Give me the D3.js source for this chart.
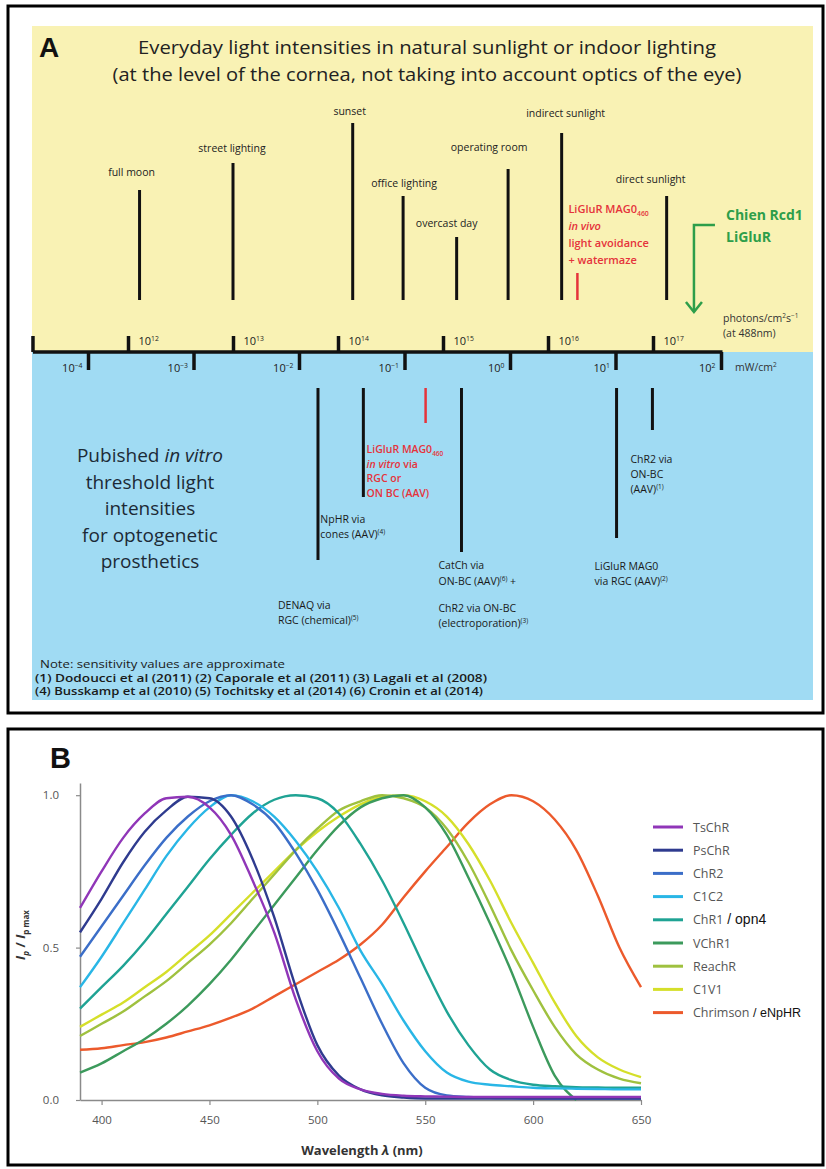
<!DOCTYPE html>
<html><head><meta charset="utf-8">
<script src="https://cdn.jsdelivr.net/npm/d3@7"></script>
<style>body{margin:0;background:#fff}svg{display:block}</style>
</head><body><svg id="c" width="826" height="1169"></svg>
<script>
// ---------------- DATA ----------------
// Panel A: everyday light intensities (log10 photons/cm2/s at 488nm)
const everydayLabels = ["full moon","street lighting","sunset","office lighting","overcast day","operating room","indirect sunlight","direct sunlight"];
const everydayLogPhotons = [12.11, 13.0, 14.14, 14.62, 15.13, 15.62, 16.13, 17.13];
const liGluRInVivoLog = 16.28;
const chienArrowLog = 17.39;
const photonTicks = [12, 13, 14, 15, 16, 17];
const mwTicks = [-4, -3, -2, -1, 0, 1, 2];
// Panel A: published in vitro thresholds (log10 mW/cm2)
const thresholdNames = ["DENAQ", "NpHR", "LiGluR in vitro", "CatCh/ChR2", "LiGluR MAG0 RGC", "ChR2 ON-BC"];
const thresholdLogMw = [-1.82, -1.39, -0.80, -0.46, 1.01, 1.35];
const notesLines = ["Note:  sensitivity values are approximate",
  "(1)  Dodoucci et al (2011)  (2) Caporale et al (2011) (3) Lagali et al (2008)",
  "(4) Busskamp et al (2010)  (5) Tochitsky et al (2014) (6) Cronin et al (2014)"];
// Panel B: normalized photocurrent spectra
const wavelengths = [390,400,410,420,430,440,450,460,470,480,490,500,510,520,530,540,550,560,570,580,590,600,610,620,630,640,650];
const tschr    = [0.63,0.75,0.86,0.94,0.99,0.995,0.96,0.87,0.72,0.55,0.33,0.16,0.07,0.035,0.02,0.014,0.012,0.011,0.01,0.01,0.01,0.01,0.01,0.01,0.01,0.01,0.01];
const pschr    = [0.55,0.66,0.78,0.88,0.95,0.995,0.99,0.93,0.79,0.60,0.37,0.18,0.08,0.035,0.015,0.008,0.005,0.005,0.005,0.005,0.005,0.005,0.005,0.005,0.005,0.005,0.005];
const chr2     = [0.47,0.57,0.67,0.77,0.86,0.93,0.98,1.0,0.97,0.91,0.81,0.69,0.55,0.40,0.25,0.12,0.04,0.015,0.01,0.007,0.006,0.005,0.005,0.005,0.005,0.005,0.005];
const c1c2     = [0.37,0.47,0.58,0.69,0.80,0.89,0.96,1.0,0.98,0.93,0.85,0.75,0.63,0.49,0.38,0.26,0.16,0.09,0.06,0.05,0.045,0.04,0.038,0.037,0.036,0.035,0.035];
const chr1     = [0.30,0.37,0.44,0.52,0.61,0.70,0.79,0.87,0.94,0.985,1.0,0.99,0.94,0.84,0.72,0.58,0.43,0.29,0.18,0.10,0.065,0.05,0.045,0.042,0.041,0.04,0.04];
const vchr1    = [0.09,0.12,0.16,0.20,0.25,0.31,0.38,0.46,0.55,0.64,0.73,0.82,0.90,0.96,0.99,1.0,0.96,0.87,0.73,0.58,0.42,0.24,0.08,0.0,null,null,null];
const reachr   = [0.21,0.25,0.29,0.34,0.39,0.45,0.51,0.58,0.66,0.74,0.82,0.89,0.95,0.98,1.0,0.99,0.96,0.89,0.78,0.64,0.49,0.36,0.24,0.15,0.10,0.07,0.055];
const c1v1     = [0.24,0.28,0.32,0.37,0.42,0.48,0.54,0.61,0.68,0.75,0.82,0.88,0.93,0.97,0.995,1.0,0.98,0.93,0.84,0.72,0.58,0.45,0.32,0.21,0.14,0.10,0.075];
const chrimson = [0.165,0.17,0.18,0.19,0.205,0.225,0.245,0.27,0.30,0.34,0.38,0.42,0.46,0.51,0.575,0.665,0.75,0.83,0.91,0.97,1.0,0.98,0.92,0.82,0.67,0.50,0.37];
const seriesNames = ["TsChR","PsChR","ChR2","C1C2","ChR1","VChR1","ReachR","C1V1","Chrimson"];
const seriesExtra = ["","","","","/ opn4","","","","/ eNpHR"];
const seriesValues = [tschr,pschr,chr2,c1c2,chr1,vchr1,reachr,c1v1,chrimson];
const seriesColors = ["#9036b8","#2f3b8f","#3b6ec8","#29b6e6","#1fa394","#3c9a5c","#9fc13f","#d5df2a","#ec5a2c"];
const xTicksB = [400,450,500,550,600,650];
const yTicksB = [0, 0.5, 1.0];

// ---------------- LAYOUT ----------------
const FONT = '"Open Sans","Noto Sans",sans-serif';
const svg = d3.select("#c");
const everydayStem = [110,137,177,104,63,131,167,104];
const everydayLabelDx = [-8,-1,-3,1,-10,-19,4,-16];
const everydayLabelGap = [14,11,8,9,10,18,16,13];
const thrStemTop = 388;
const thrStem = [172,109,35,164,150,42];

function rich(sel, parts, size) {
  let shift = 0;
  parts.forEach(p => {
    const s = typeof p === "string" ? p : p[0];
    const t = typeof p === "string" ? "" : (p[1] || "");
    const ts = sel.append("tspan").text(s);
    let target = 0;
    if (t.includes("sup")) target = -size * 0.4;
    if (t.includes("sub")) target = size * 0.28;
    ts.attr("dy", target - shift); shift = target;
    if (t.includes("sup") || t.includes("sub")) ts.attr("font-size", size * 0.62);
    if (t.includes("it")) ts.attr("font-style", "italic");
    if (t.includes("bold")) ts.attr("font-weight", "bold");
  });
}
function txt(x, y, parts, o = {}) {
  const size = o.size || 11;
  const t = svg.append("text").attr("x", x).attr("y", y)
    .attr("font-family", o.family || FONT).attr("font-size", size)
    .attr("fill", o.fill || "#1a1a1a").attr("text-anchor", o.anchor || "start");
  if (o.weight) t.attr("font-weight", o.weight);
  if (o.len) t.attr("textLength", o.len).attr("lengthAdjust", "spacingAndGlyphs");
  rich(t, typeof parts === "string" ? [parts] : parts, size);
  return t;
}

// ---------------- PANEL A ----------------
svg.append("rect").attr("x", 8).attr("y", 6).attr("width", 815).attr("height", 707)
  .attr("fill", "none").attr("stroke", "#000").attr("stroke-width", 3);
svg.append("rect").attr("x", 32).attr("y", 26).attr("width", 781).attr("height", 326).attr("fill", "#f9f2b4");
svg.append("rect").attr("x", 32).attr("y", 352).attr("width", 781).attr("height", 348).attr("fill", "#a0dbf3");

txt(39, 57, "A", {size: 28, weight: "bold", family: '"Liberation Sans",Arial,sans-serif', fill: "#111"});
txt(427, 54, "Everyday light intensities in natural sunlight or indoor lighting", {size: 19, anchor: "middle", len: 578, fill: "#222"});
txt(427, 81, "(at the level of the cornea, not taking into account optics of the eye)", {size: 19, anchor: "middle", len: 629, fill: "#222"});

const xPhot = d3.scaleLinear().domain([12, 17]).range([128, 653]);
const xMw = d3.scaleLinear().domain([-4, 2]).range([88, 721]);
const axisY = 352;
const barBottom = 300;

svg.append("line").attr("x1", xPhot(11.095)).attr("x2", xMw(2) + 1.5).attr("y1", axisY).attr("y2", axisY)
  .attr("stroke", "#111").attr("stroke-width", 3.5);
svg.append("line").attr("x1", xPhot(11.095)).attr("x2", xPhot(11.095)).attr("y1", axisY).attr("y2", axisY - 16)
  .attr("stroke", "#111").attr("stroke-width", 3.5);

const gTop = svg.append("g").attr("transform", `translate(0,${axisY})`)
  .call(d3.axisTop(xPhot).tickValues(photonTicks).tickSize(16).tickFormat(""));
gTop.select(".domain").remove();
gTop.selectAll(".tick line").attr("stroke", "#111").attr("stroke-width", 3.5);
gTop.selectAll(".tick").each(function (d) {
  const t = d3.select(this).append("text").attr("x", 10).attr("y", -7).attr("fill", "#222")
    .attr("font-family", FONT).attr("font-size", 11).attr("text-anchor", "start");
  rich(t, ["10", [String(d), "sup"]], 11);
});

const gBot = svg.append("g").attr("transform", `translate(0,${axisY})`)
  .call(d3.axisBottom(xMw).tickValues(mwTicks).tickSize(18).tickFormat(""));
gBot.select(".domain").remove();
gBot.selectAll(".tick line").attr("stroke", "#111").attr("stroke-width", 3.5);
gBot.selectAll(".tick").each(function (d) {
  const t = d3.select(this).append("text").attr("x", -6).attr("y", 20).attr("fill", "#222")
    .attr("font-family", FONT).attr("font-size", 11).attr("text-anchor", "end");
  rich(t, ["10", [d < 0 ? "\u2212" + Math.abs(d) : String(d), "sup"]], 11);
});

txt(723, 322, ["photons/cm", ["2", "sup"], "s", ["\u22121", "sup"]], {size: 10.5, fill: "#333"});
txt(723, 337, "(at 488nm)", {size: 10.5, fill: "#333"});
txt(735, 371, ["mW/cm", ["2", "sup"]], {size: 10.5, fill: "#333"});

everydayLogPhotons.forEach((v, i) => {
  const x = xPhot(v);
  svg.append("line").attr("x1", x).attr("x2", x).attr("y1", barBottom).attr("y2", barBottom - everydayStem[i])
    .attr("stroke", "#111").attr("stroke-width", 3);
  txt(x + everydayLabelDx[i], barBottom - everydayStem[i] - everydayLabelGap[i], everydayLabels[i],
    {size: 10.5, anchor: "middle", fill: "#222"});
});

const RED = "#e5333b";
const xr = xPhot(liGluRInVivoLog);
svg.append("line").attr("x1", xr).attr("x2", xr).attr("y1", barBottom).attr("y2", barBottom - 27)
  .attr("stroke", RED).attr("stroke-width", 2.5);
[["LiGluR MAG0", ["460", "sub"]], [["in vivo", "it"]], ["light avoidance"], ["+ watermaze"]].forEach((parts, i) => {
  txt(xr - 9, 213 + i * 17, parts, {size: 11, weight: 600, fill: RED});
});

const GREEN = "#2e9e4a";
const xg = xPhot(chienArrowLog);
svg.append("path").attr("d", `M${xg + 21},225 H${xg} V312`).attr("fill", "none").attr("stroke", GREEN).attr("stroke-width", 2.5);
svg.append("path").attr("d", `M${xg - 8},302 L${xg},312 L${xg + 8},302`).attr("fill", "none").attr("stroke", GREEN).attr("stroke-width", 2.5);
txt(726, 220, "Chien Rcd1", {size: 14, weight: "bold", fill: GREEN});
txt(726, 242, "LiGluR", {size: 14, weight: "bold", fill: GREEN});

const thrColor = ["#111", "#111", RED, "#111", "#111", "#111"];
thresholdLogMw.forEach((v, i) => {
  const x = xMw(v);
  svg.append("line").attr("x1", x).attr("x2", x).attr("y1", thrStemTop).attr("y2", thrStemTop + thrStem[i])
    .attr("stroke", thrColor[i]).attr("stroke-width", i === 2 ? 2.5 : 3);
});
const thrLabels = [
  {i: 0, dx: -40, ys: [609, 624], lines: [["DENAQ via"], ["RGC (chemical)", ["(5)", "sup"]]]},
  {i: 1, dx: -43, ys: [523, 538], lines: [["NpHR via"], ["cones (AAV)", ["(4)", "sup"]]]},
  {i: 2, dx: -59, ys: [453, 467.5, 482, 496.5], lines: [["LiGluR MAG0", ["460", "sub"]], [["in vitro", "it"], " via"], ["RGC or"], ["ON BC (AAV)"]], red: true},
  {i: 3, dx: -23, ys: [569, 585, 612, 627], lines: [["CatCh via"], ["ON-BC (AAV)", ["(6)", "sup"], " +"], ["ChR2 via ON-BC"], ["(electroporation)", ["(3)", "sup"]]]},
  {i: 4, dx: -22, ys: [570, 585], lines: [["LiGluR MAG0"], ["via RGC (AAV)", ["(2)", "sup"]]]},
  {i: 5, dx: -22, ys: [463, 478, 493], lines: [["ChR2 via"], ["ON-BC"], ["(AAV)", ["(1)", "sup"]]]}
];
thrLabels.forEach(L => {
  const x = xMw(thresholdLogMw[L.i]) + L.dx;
  L.lines.forEach((parts, k) => {
    txt(x, L.ys[k], parts, {size: 10.5, fill: L.red ? RED : "#1a1a1a", weight: L.red ? 600 : null});
  });
});

const leftLines = [["Pubished ", ["in vitro", "it"]], ["threshold light"], ["intensities"], ["for optogenetic"], ["prosthetics"]];
leftLines.forEach((p, i) => txt(150, 462 + i * 26.5, p, {size: 19, anchor: "middle", fill: "#1c2a36"}));

txt(40, 668, notesLines[0], {size: 11, fill: "#1a1a1a", len: 245});
txt(35, 681.5, notesLines[1], {size: 11, fill: "#1a1a1a", weight: 600, len: 452});
txt(35, 694.5, notesLines[2], {size: 11, fill: "#1a1a1a", weight: 600, len: 448});

// ---------------- PANEL B ----------------
svg.append("rect").attr("x", 8).attr("y", 729).attr("width", 815).attr("height", 436)
  .attr("fill", "none").attr("stroke", "#000").attr("stroke-width", 3);
txt(50, 768, "B", {size: 29, weight: "bold", family: '"Liberation Sans",Arial,sans-serif', fill: "#111"});

const xB = d3.scaleLinear().domain([390, 650]).range([80, 641]);
const yB = d3.scaleLinear().domain([0, 1.04]).range([1100, 783]);

const gy = svg.append("g").attr("transform", "translate(80,0)")
  .call(d3.axisLeft(yB).tickValues(yTicksB).tickFormat(d3.format(".1f")).tickSize(4).tickSizeOuter(0).tickPadding(17));
const gx = svg.append("g").attr("transform", "translate(0,1100)")
  .call(d3.axisBottom(xB).tickValues(xTicksB).tickSize(5).tickSizeOuter(0).tickPadding(11));
[gx, gy].forEach(g => {
  g.select(".domain").attr("stroke", "#8a8a8a").attr("stroke-width", 1.5);
  g.selectAll(".tick line").attr("stroke", "#8a8a8a").attr("stroke-width", 1.2);
  g.selectAll(".tick text").attr("fill", "#555").attr("font-family", FONT).attr("font-size", 11.5);
});

const line = d3.line().defined(d => d[1] !== null).x(d => xB(d[0])).y(d => yB(d[1])).curve(d3.curveMonotoneX);
[8, 7, 6, 5, 4, 3, 2, 1, 0].forEach(s => {
  const pts = wavelengths.map((w, k) => [w, seriesValues[s][k]]);
  svg.append("path").attr("d", line(pts)).attr("fill", "none")
    .attr("stroke", seriesColors[s]).attr("stroke-width", 2.4).attr("stroke-linejoin", "round");
});

seriesNames.forEach((n, i) => {
  const y = 827 + i * 23.2;
  svg.append("line").attr("x1", 653).attr("x2", 683).attr("y1", y).attr("y2", y)
    .attr("stroke", seriesColors[i]).attr("stroke-width", 3);
  const t = txt(693, y + 4.5, n, {size: 12.5, fill: "#555"});
  if (seriesExtra[i]) t.append("tspan").text(" " + seriesExtra[i])
    .attr("font-family", '"Liberation Sans",Arial,sans-serif').attr("fill", "#111").attr("font-size", seriesExtra[i].includes("opn4") ? 14 : 12.5);
});

const yl = svg.append("text").attr("transform", "translate(25,935) rotate(-90)").attr("text-anchor", "middle")
  .attr("font-family", FONT).attr("font-size", 13).attr("font-weight", "bold").attr("fill", "#333");
rich(yl, [["I", "it"], ["p", "sub it"], [" / "], ["I", "it"], ["p max", "sub"]], 13);
txt(362, 1155, ["Wavelength ", ["\u03bb", "it"], " (nm)"], {size: 13, weight: "bold", anchor: "middle", fill: "#333"});
</script></body></html>
